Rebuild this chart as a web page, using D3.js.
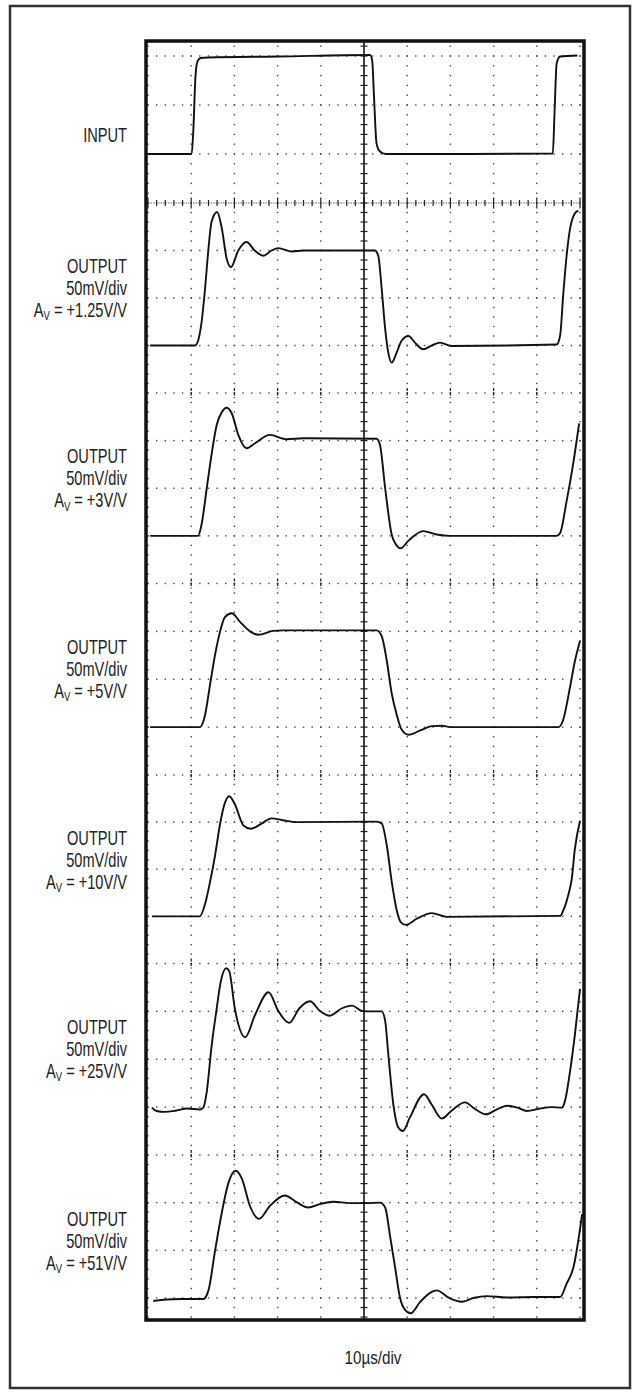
<!DOCTYPE html>
<html lang="en">
<head>
<meta charset="UTF-8">
<title>Pulse response</title>
<script src="https://d3js.org/d3.v7.min.js"></script>
<style>
    body { margin: 0; background: #fff; }
    text { font-family: "Liberation Sans", Arial, sans-serif; fill: #222; }
</style>
</head>
<body>
<div id="chart"></div>
<script>
    // traces: [time in divisions, level in divisions above the panel baseline]
    var traceInput = [[0,0],[1.01,0],[1.05,0.5],[1.1,1.6],[1.15,1.9],[1.22,1.96],[1.4,1.97],[3,1.99],[5.14,2.02],
        [5.19,1.9],[5.23,1.2],[5.29,0.22],[5.37,0.05],[5.5,0],[7.5,0],[9.37,0.01],[9.41,0.83],[9.46,1.85],
        [9.54,1.99],[9.94,2.01]];

    var trace125 = [[0.05,0],[1.09,0],[1.16,0.1],[1.24,0.49],[1.32,1.19],[1.4,2.04],[1.47,2.6],[1.6,2.81],
        [1.71,2.46],[1.82,1.83],[1.92,1.65],[2.09,2],[2.28,2.18],[2.47,2],[2.67,1.89],[2.86,2],[3.02,2.05],
        [3.33,1.98],[3.6,2],[4.98,2],[5.25,2],[5.33,1.89],[5.41,1.19],[5.49,0.35],[5.56,-0.14],[5.64,-0.36],
        [5.76,-0.14],[5.87,0.1],[6.03,0.2],[6.18,0.06],[6.37,-0.08],[6.57,0],[6.76,0.06],[7.03,-0.01],
        [9.46,0.02],[9.54,0.21],[9.61,1.05],[9.69,1.89],[9.77,2.46],[9.88,2.78],[9.96,2.84]];

    var trace3 = [[0.05,0],[1.16,0],[1.24,0.24],[1.36,1],[1.47,1.7],[1.59,2.33],[1.71,2.6],[1.82,2.69],
        [1.94,2.57],[2.09,2.12],[2.28,1.84],[2.47,1.94],[2.82,2.12],[3.21,2.03],[3.6,2.05],[5.29,2.04],
        [5.37,1.91],[5.49,1],[5.64,0.03],[5.74,-0.18],[5.85,-0.26],[6.03,-0.1],[6.37,0.1],[6.68,0.03],
        [7,0],[9.46,0],[9.54,0.06],[9.69,0.73],[9.85,1.56],[9.98,2.36]];

    var trace5 = [[0.05,0],[1.2,0],[1.32,0.25],[1.44,0.91],[1.55,1.5],[1.67,2],[1.78,2.3],[1.94,2.38],
        [2.13,2.2],[2.36,2],[2.55,1.93],[2.9,2.01],[3.12,2.02],[5.29,2.02],[5.41,1.9],[5.53,1.37],
        [5.64,0.71],[5.76,0.25],[5.87,-0.05],[6.03,-0.16],[6.3,-0.07],[6.57,0.02],[6.8,0.03],[7,0],
        [9.5,0],[9.61,0.15],[9.77,0.84],[9.88,1.37],[10,1.8]];

    var trace10 = [[0.09,0],[1.2,0],[1.32,0.26],[1.44,0.75],[1.55,1.28],[1.67,1.97],[1.77,2.38],[1.88,2.55],
        [2.01,2.38],[2.21,1.93],[2.38,1.86],[2.63,1.97],[2.86,2.08],[3.12,2.04],[3.44,2],[5.29,2.01],
        [5.41,1.97],[5.53,1.49],[5.64,0.75],[5.76,0.12],[5.85,-0.12],[5.97,-0.18],[6.22,-0.05],[6.57,0.07],
        [6.91,-0.01],[9.54,0.01],[9.61,0.12],[9.73,0.46],[9.81,0.8],[9.88,1.42],[10,2.03]];

    var trace25 = [[0.09,-0.01],[0.2,-0.08],[0.39,-0.1],[0.66,-0.07],[0.9,-0.03],[1.2,-0.05],[1.28,-0.01],
        [1.36,0.32],[1.47,1.26],[1.59,2.06],[1.68,2.6],[1.81,2.9],[1.88,2.84],[2.01,2.06],[2.25,1.46],
        [2.48,1.93],[2.79,2.4],[3.02,2],[3.27,1.76],[3.5,2.06],[3.75,2.21],[3.98,2.01],[4.21,1.91],
        [4.48,2.06],[4.72,2.12],[4.95,2.01],[5.06,2],[5.41,2],[5.49,1.8],[5.56,1.13],[5.68,0.05],
        [5.79,-0.42],[5.9,-0.5],[6.06,-0.22],[6.39,0.27],[6.57,0.05],[6.8,-0.24],[7.02,-0.08],[7.34,0.1],
        [7.57,-0.04],[7.82,-0.15],[8.07,-0.05],[8.32,0.03],[8.55,-0.01],[8.77,-0.08],[9.07,-0.03],
        [9.34,0],[9.58,-0.01],[9.65,0.12],[9.77,0.75],[9.88,1.5],[10,2.47]];

    var trace51 = [[0.12,-0.06],[0.43,-0.03],[0.74,-0.02],[1.28,-0.02],[1.4,0.16],[1.55,0.98],[1.71,1.8],
        [1.86,2.41],[2.03,2.67],[2.17,2.51],[2.36,1.93],[2.57,1.66],[2.82,1.93],[3.17,2.15],[3.44,2.01],
        [3.71,1.9],[3.98,1.97],[4.29,2.02],[4.68,1.99],[5.06,1.99],[5.37,2],[5.49,1.9],[5.6,1.32],
        [5.72,0.64],[5.83,0.02],[5.95,-0.25],[6.08,-0.32],[6.3,-0.08],[6.68,0.16],[6.99,-0.01],
        [7.26,-0.08],[7.53,0],[7.84,0.04],[8.3,0.01],[8.92,0.02],[9.54,0.02],[9.69,0.3],[9.85,0.65],
        [10.05,1.76]];

    var outputTraces = [trace125, trace3, trace5, trace10, trace25, trace51];
    var gainLabels = ["+1.25V/V", "+3V/V", "+5V/V", "+10V/V", "+25V/V", "+51V/V"];
    var scaleLabel = "50mV/div";
    var timeLabel = "10\u00b5s/div";

    var W = 640, H = 1394;
    var svg = d3.select("#chart").append("svg")
        .attr("width", W)
        .attr("height", H);

    var x = d3.scaleLinear().domain([0, 10]).range([148, 580]);
    // screen grid divisions, composite of several scope shots
    var y = d3.scaleLinear()
        .domain([0, 3, 7, 11, 15, 19, 23, 26])
        .range([56, 203, 393, 583.5, 775, 963.5, 1155, 1298]);

    var frame = {left: 146, top: 41, right: 584, bottom: 1320};

    // outer border
    svg.append("rect")
        .attr("x", 10).attr("y", 6)
        .attr("width", 620).attr("height", 1382)
        .style("fill", "none")
        .style("stroke", "#333")
        .style("stroke-width", 2.5);

    var grid = svg.append("g").attr("fill", "#444");

    // dotted vertical lines
    d3.range(0, 11).filter(function(i) { return i !== 5; }).forEach(function(i) {
        d3.range(-1, 133).forEach(function(j) {
            grid.append("rect")
                .attr("x", x(i) - 0.7).attr("y", y(j / 5) - 0.7)
                .attr("width", 1.4).attr("height", 1.4);
        });
    });

    // dotted horizontal lines
    d3.range(0, 27).filter(function(d) { return d !== 3; }).forEach(function(d) {
        d3.range(0, 51).forEach(function(i) {
            grid.append("rect")
                .attr("x", x(i / 5) - 0.7).attr("y", y(d) - 0.7)
                .attr("width", 1.4).attr("height", 1.4);
        });
    });

    // panel separators with major ticks
    [7, 11, 15, 19, 23].forEach(function(d) {
        d3.range(1, 10).filter(function(i) { return i !== 5; }).forEach(function(i) {
            svg.append("line")
                .attr("x1", x(i)).attr("x2", x(i))
                .attr("y1", y(d) - 5).attr("y2", y(d) + 5)
                .style("stroke", "#222")
                .style("stroke-width", 1.3)
                .style("stroke-dasharray", "3,1.5");
        });
    });

    // horizontal axis with minor ticks
    svg.append("line")
        .attr("x1", x(0)).attr("x2", x(10))
        .attr("y1", y(3)).attr("y2", y(3))
        .style("stroke", "#555")
        .style("stroke-width", 0.9)
        .style("stroke-dasharray", "1.5,1");
    d3.range(0, 51).forEach(function(i) {
        var len = i % 5 === 0 ? 5.5 : 3;
        svg.append("line")
            .attr("x1", x(i / 5)).attr("x2", x(i / 5))
            .attr("y1", y(3) - len).attr("y2", y(3) + len)
            .style("stroke", "#222")
            .style("stroke-width", 1.2);
    });

    // center vertical axis with minor ticks
    svg.append("line")
        .attr("x1", x(5)).attr("x2", x(5))
        .attr("y1", frame.top).attr("y2", frame.bottom)
        .style("stroke", "#111")
        .style("stroke-width", 1.6);
    d3.range(-1, 133).forEach(function(j) {
        svg.append("line")
            .attr("x1", x(5) - 3.5).attr("x2", x(5) + 3.5)
            .attr("y1", y(j / 5)).attr("y2", y(j / 5))
            .style("stroke", "#222")
            .style("stroke-width", 1.2);
    });

    // frame
    svg.append("rect")
        .attr("x", frame.left).attr("y", frame.top)
        .attr("width", frame.right - frame.left)
        .attr("height", frame.bottom - frame.top)
        .style("fill", "none")
        .style("stroke", "#111")
        .style("stroke-width", 3.5);

    var drawTrace = function(points, baseDiv) {
        var line = d3.line()
            .x(function(p) { return x(p[0]); })
            .y(function(p) { return y(baseDiv - p[1]); })
            .curve(d3.curveMonotoneX);
        svg.append("path")
            .attr("d", line(points))
            .style("fill", "none")
            .style("stroke", "#111")
            .style("stroke-width", 1.9)
            .style("stroke-linejoin", "round");
    };

    drawTrace(traceInput, 2);
    outputTraces.forEach(function(tr, k) {
        drawTrace(tr, 4 * (k + 1) + 2);
    });

    // condensed look: regular sans squeezed horizontally
    var label = function(ty, txt) {
        return svg.append("text")
            .attr("transform", "translate(127," + ty + ") scale(0.73,1)")
            .attr("text-anchor", "end")
            .style("font-size", "20px")
            .text(txt);
    };

    label(142, "INPUT");
    gainLabels.forEach(function(g, k) {
        var yb = y(4 * (k + 1) + 0.48);
        label(yb, "OUTPUT");
        label(yb + 22, scaleLabel);
        var t = label(yb + 44, "A");
        t.append("tspan").attr("dy", 3).style("font-size", "13px").text("V");
        t.append("tspan").attr("dy", -3).text(" = " + g);
    });

    svg.append("text")
        .attr("transform", "translate(373,1364) scale(0.8,1)")
        .attr("text-anchor", "middle")
        .style("font-size", "19px")
        .text(timeLabel);
</script>
</body>
</html>
